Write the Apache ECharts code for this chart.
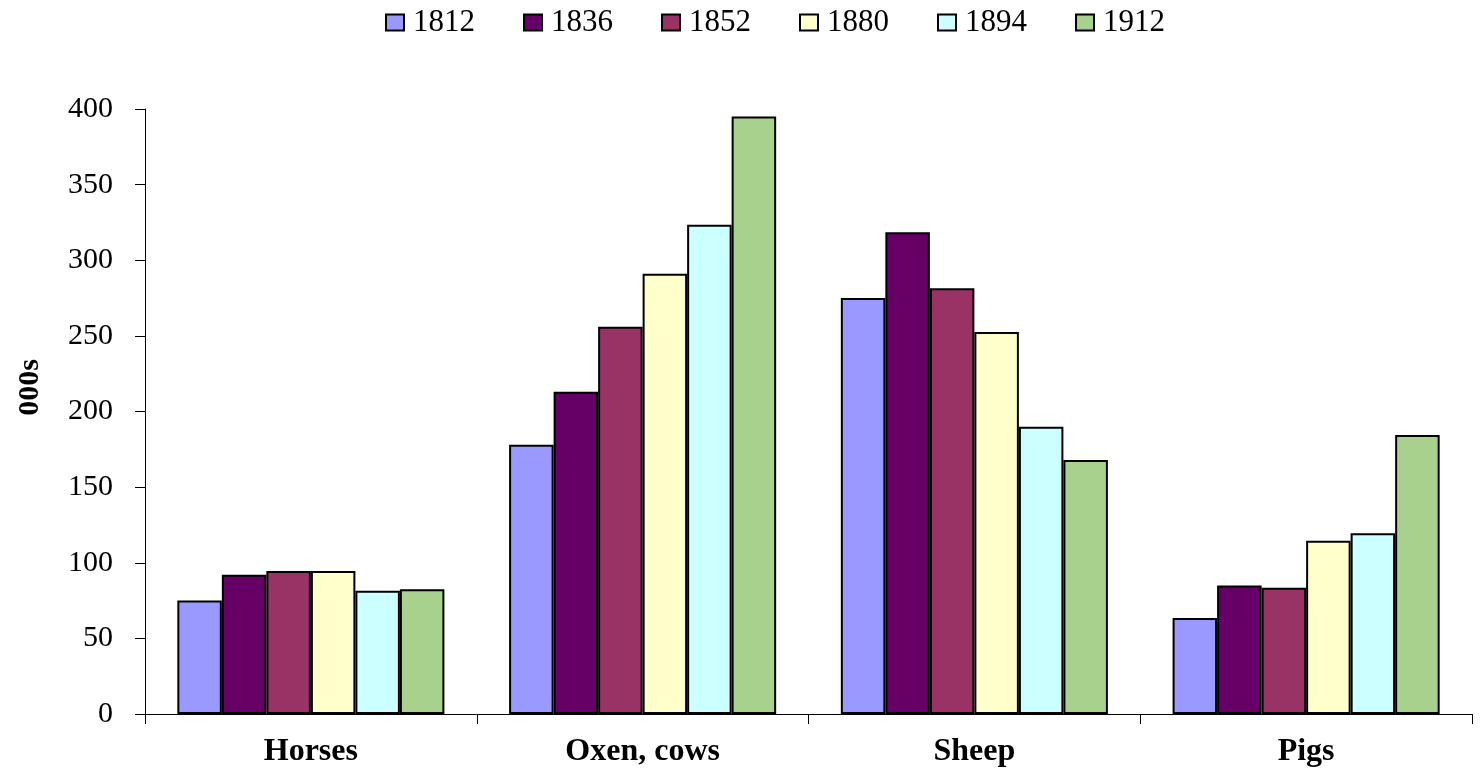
<!DOCTYPE html>
<html>
<head>
<meta charset="utf-8">
<script src="https://cdn.jsdelivr.net/npm/echarts@6/dist/echarts.min.js"></script>
<style>
html,body{margin:0;padding:0;background:#fff;}
#chart{width:1483px;height:771px;}
</style>
</head>
<body>
<div id="chart"></div>
<script>
const categories = ['Horses', 'Oxen, cows', 'Sheep', 'Pigs'];
const years = ['1812', '1836', '1852', '1880', '1894', '1912'];
const colors = ['#9999FF', '#660066', '#993366', '#FFFFCC', '#CCFFFF', '#A9D18E'];
const v1812 = [75, 178, 275, 63.5];
const v1836 = [92, 213, 318.5, 85];
const v1852 = [94.5, 256, 281.5, 83.5];
const v1880 = [94.5, 291, 252.5, 114.5];
const v1894 = [81.5, 323.5, 190, 119.5];
const v1912 = [82.5, 395, 168, 184.5];
const seriesValues = [v1812, v1836, v1852, v1880, v1894, v1912];
const yTicks = { min: 0, max: 400, interval: 50 };

const font = 'Liberation Serif, Times New Roman, serif';
const chart = echarts.init(document.getElementById('chart'));
chart.setOption({
  animation: false,
  backgroundColor: '#fff',
  textStyle: { fontFamily: font },
  legend: {
    top: 2,
    left: 380,
    icon: 'rect',
    itemWidth: 18,
    itemHeight: 16,
    itemGap: 48,
    textStyle: { fontFamily: font, fontSize: 31, color: '#000', padding: [0, 0, 0, 4] },
    data: years
  },
  grid: { left: 145, right: 11, top: 109, bottom: 57, containLabel: false },
  xAxis: {
    type: 'category',
    data: categories,
    axisLine: { lineStyle: { color: '#000', width: 1 } },
    axisTick: { show: true, length: 10, lineStyle: { color: '#000' } },
    axisLabel: { fontFamily: font, fontSize: 32, fontWeight: 'bold', color: '#000', margin: 22 },
    splitLine: { show: false }
  },
  yAxis: {
    type: 'value',
    min: yTicks.min, max: yTicks.max, interval: yTicks.interval,
    name: '000s',
    nameLocation: 'middle',
    nameGap: 100,
    nameTextStyle: { fontFamily: font, fontSize: 30, fontWeight: 'bold', color: '#000', padding: [0, 0, 0, 48] },
    axisLine: { show: true, lineStyle: { color: '#000', width: 1 } },
    axisTick: { show: true, length: 10, lineStyle: { color: '#000' } },
    axisLabel: { fontFamily: font, fontSize: 30, color: '#000', margin: 32 },
    splitLine: { show: false }
  },
  series: years.map((y, i) => ({
    name: y,
    type: 'bar',
    data: seriesValues[i],
    barGap: '0%',
    barCategoryGap: '19.5%',
    itemStyle: { color: colors[i], borderColor: '#000', borderWidth: 2 }
  }))
});
</script>
</body>
</html>
